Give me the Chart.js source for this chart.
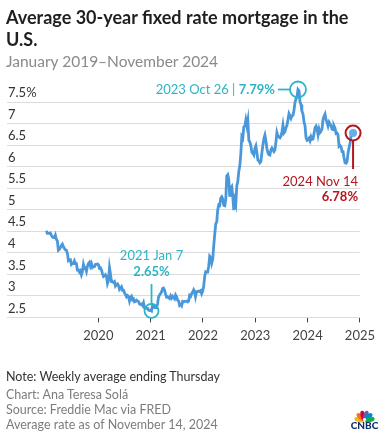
<!DOCTYPE html>
<html>
<head>
<meta charset="utf-8">
<script src="https://cdn.jsdelivr.net/npm/chart.js@4.4.1/dist/chart.umd.min.js"></script>
<style>
  html, body { margin: 0; padding: 0; background: #fff; }
  body { width: 381px; height: 444px; position: relative; overflow: hidden; font-family: Lato, "Open Sans", sans-serif; }
  #chart { position: absolute; left: 0; top: 0; }
  .txt { position: absolute; left: 6px; white-space: nowrap; }
  #title { top: 6px; font-size: 18px; line-height: 22px; font-weight: 700; color: #1f1f1f; }
  #subtitle { top: 52px; font-size: 15.5px; line-height: 18px; color: #8a8a8a; }
  .foot { font-size: 12.5px; line-height: 15px; color: #7d7d7d; }
</style>
</head>
<body>
<canvas id="chart" width="381" height="444"></canvas>
<div id="title" class="txt">Average 30-year fixed rate mortgage in the<br>U.S.</div>
<div id="subtitle" class="txt">January 2019–November 2024</div>
<div class="txt foot" style="top:369px;color:#333;">Note: Weekly average ending Thursday</div>
<div class="txt foot" style="top:387px;">Chart: Ana Teresa Solá</div>
<div class="txt foot" style="top:402px;">Source: Freddie Mac via FRED</div>
<div class="txt foot" style="top:417px;">Average rate as of November 14, 2024</div>
<script>
// --- weekly Freddie Mac 30-year fixed rate (PMMS) ---
const weekDates = [
  '2019-01-03','2019-01-10','2019-01-17','2019-01-24','2019-01-31',
  '2019-02-07','2019-02-14','2019-02-21','2019-02-28',
  '2019-03-07','2019-03-14','2019-03-21','2019-03-28',
  '2019-04-04','2019-04-11','2019-04-18','2019-04-25',
  '2019-05-02','2019-05-09','2019-05-16','2019-05-23','2019-05-30',
  '2019-06-06','2019-06-13','2019-06-20','2019-06-27',
  '2019-07-03','2019-07-11','2019-07-18','2019-07-25',
  '2019-08-01','2019-08-08','2019-08-15','2019-08-22','2019-08-29',
  '2019-09-05','2019-09-12','2019-09-19','2019-09-26',
  '2019-10-03','2019-10-10','2019-10-17','2019-10-24','2019-10-31',
  '2019-11-07','2019-11-14','2019-11-21','2019-11-27',
  '2019-12-05','2019-12-12','2019-12-19','2019-12-26',
  '2020-01-02','2020-01-09','2020-01-16','2020-01-23','2020-01-30',
  '2020-02-06','2020-02-13','2020-02-20','2020-02-27',
  '2020-03-05','2020-03-12','2020-03-19','2020-03-26',
  '2020-04-02','2020-04-09','2020-04-16','2020-04-23','2020-04-30',
  '2020-05-07','2020-05-14','2020-05-21','2020-05-28',
  '2020-06-04','2020-06-11','2020-06-18','2020-06-25',
  '2020-07-02','2020-07-09','2020-07-16','2020-07-23','2020-07-30',
  '2020-08-06','2020-08-13','2020-08-20','2020-08-27',
  '2020-09-03','2020-09-10','2020-09-17','2020-09-24',
  '2020-10-01','2020-10-08','2020-10-15','2020-10-22','2020-10-29',
  '2020-11-05','2020-11-12','2020-11-19','2020-11-25',
  '2020-12-03','2020-12-10','2020-12-17','2020-12-24','2020-12-31',
  '2021-01-07','2021-01-14','2021-01-21','2021-01-28',
  '2021-02-04','2021-02-11','2021-02-18','2021-02-25',
  '2021-03-04','2021-03-11','2021-03-18','2021-03-25',
  '2021-04-01','2021-04-08','2021-04-15','2021-04-22','2021-04-29',
  '2021-05-06','2021-05-13','2021-05-20','2021-05-27',
  '2021-06-03','2021-06-10','2021-06-17','2021-06-24',
  '2021-07-01','2021-07-08','2021-07-15','2021-07-22','2021-07-29',
  '2021-08-05','2021-08-12','2021-08-19','2021-08-26',
  '2021-09-02','2021-09-09','2021-09-16','2021-09-23','2021-09-30',
  '2021-10-07','2021-10-14','2021-10-21','2021-10-28',
  '2021-11-04','2021-11-10','2021-11-18','2021-11-24',
  '2021-12-02','2021-12-09','2021-12-16','2021-12-23','2021-12-30',
  '2022-01-06','2022-01-13','2022-01-20','2022-01-27',
  '2022-02-03','2022-02-10','2022-02-17','2022-02-24',
  '2022-03-03','2022-03-10','2022-03-17','2022-03-24','2022-03-31',
  '2022-04-07','2022-04-14','2022-04-21','2022-04-28',
  '2022-05-05','2022-05-12','2022-05-19','2022-05-26',
  '2022-06-02','2022-06-09','2022-06-16','2022-06-23','2022-06-30',
  '2022-07-07','2022-07-14','2022-07-21','2022-07-28',
  '2022-08-04','2022-08-11','2022-08-18','2022-08-25',
  '2022-09-01','2022-09-08','2022-09-15','2022-09-22','2022-09-29',
  '2022-10-06','2022-10-13','2022-10-20','2022-10-27',
  '2022-11-03','2022-11-10','2022-11-17','2022-11-23',
  '2022-12-01','2022-12-08','2022-12-15','2022-12-22','2022-12-29',
  '2023-01-05','2023-01-12','2023-01-19','2023-01-26',
  '2023-02-02','2023-02-09','2023-02-16','2023-02-23',
  '2023-03-02','2023-03-09','2023-03-16','2023-03-23','2023-03-30',
  '2023-04-06','2023-04-13','2023-04-20','2023-04-27',
  '2023-05-04','2023-05-11','2023-05-18','2023-05-25',
  '2023-06-01','2023-06-08','2023-06-15','2023-06-22','2023-06-29',
  '2023-07-06','2023-07-13','2023-07-20','2023-07-27',
  '2023-08-03','2023-08-10','2023-08-17','2023-08-24','2023-08-31',
  '2023-09-07','2023-09-14','2023-09-21','2023-09-28',
  '2023-10-05','2023-10-12','2023-10-19','2023-10-26',
  '2023-11-02','2023-11-09','2023-11-16','2023-11-22','2023-11-30',
  '2023-12-07','2023-12-14','2023-12-21','2023-12-28',
  '2024-01-04','2024-01-11','2024-01-18','2024-01-25',
  '2024-02-01','2024-02-08','2024-02-15','2024-02-22','2024-02-29',
  '2024-03-07','2024-03-14','2024-03-21','2024-03-28',
  '2024-04-04','2024-04-11','2024-04-18','2024-04-25',
  '2024-05-02','2024-05-09','2024-05-16','2024-05-23','2024-05-30',
  '2024-06-06','2024-06-13','2024-06-20','2024-06-27',
  '2024-07-03','2024-07-11','2024-07-18','2024-07-25',
  '2024-08-01','2024-08-08','2024-08-15','2024-08-22','2024-08-29',
  '2024-09-05','2024-09-12','2024-09-19','2024-09-26',
  '2024-10-03','2024-10-10','2024-10-17','2024-10-24','2024-10-31',
  '2024-11-07','2024-11-14'
];
const rates = [
  4.51,4.45,4.45,4.45,4.46,
  4.41,4.37,4.35,4.35,
  4.41,4.31,4.28,4.06,
  4.08,4.12,4.17,4.20,
  4.14,4.10,4.07,4.06,3.99,
  3.82,3.84,3.84,3.73,
  3.75,3.75,3.81,3.75,
  3.75,3.60,3.60,3.55,3.58,
  3.49,3.56,3.73,3.64,
  3.65,3.57,3.69,3.75,3.78,
  3.69,3.75,3.66,3.68,
  3.68,3.73,3.73,3.74,
  3.72,3.64,3.65,3.60,3.51,
  3.45,3.47,3.49,3.45,
  3.29,3.36,3.65,3.50,
  3.33,3.33,3.31,3.33,3.23,
  3.26,3.28,3.24,3.15,
  3.18,3.21,3.13,3.13,
  3.07,3.03,2.98,3.01,2.99,
  2.88,2.96,2.99,2.91,
  2.93,2.86,2.87,2.90,
  2.88,2.87,2.81,2.80,2.81,
  2.78,2.84,2.72,2.72,
  2.71,2.71,2.67,2.66,2.67,
  2.65,2.79,2.77,2.73,
  2.73,2.73,2.81,2.97,
  3.02,3.05,3.09,3.17,
  3.18,3.13,3.04,2.97,2.98,
  2.96,2.94,3.00,2.95,
  2.99,2.96,2.93,3.02,
  2.98,2.90,2.88,2.78,2.80,
  2.77,2.87,2.86,2.87,
  2.87,2.88,2.86,2.88,3.01,
  2.99,3.05,3.09,3.14,
  3.09,2.98,3.10,3.10,
  3.11,3.10,3.12,3.05,3.11,
  3.22,3.45,3.56,3.55,
  3.55,3.69,3.92,3.89,
  3.76,3.85,4.16,4.42,4.67,
  4.72,5.00,5.11,5.10,
  5.27,5.30,5.25,5.10,
  5.09,5.23,5.78,5.81,5.70,
  5.30,5.51,5.54,5.30,
  4.99,5.22,5.13,5.55,
  5.66,5.89,6.02,6.29,6.70,
  6.66,6.92,6.94,7.08,
  6.95,7.08,6.61,6.58,
  6.49,6.33,6.31,6.27,6.42,
  6.48,6.33,6.15,6.13,
  6.09,6.12,6.32,6.50,
  6.65,6.73,6.60,6.42,6.32,
  6.28,6.27,6.39,6.43,
  6.39,6.35,6.39,6.57,
  6.79,6.71,6.69,6.67,6.71,
  6.81,6.96,6.78,6.81,
  6.90,6.96,7.09,7.23,7.18,
  7.12,7.18,7.19,7.31,
  7.49,7.57,7.63,7.79,
  7.76,7.50,7.44,7.29,7.22,
  7.03,6.95,6.67,6.61,
  6.62,6.66,6.60,6.69,
  6.63,6.64,6.77,6.90,6.94,
  6.88,6.74,6.87,6.79,
  6.82,6.88,7.10,7.17,
  7.22,7.09,7.02,6.94,7.03,
  6.99,6.95,6.87,6.86,
  6.95,6.89,6.77,6.78,
  6.73,6.47,6.49,6.46,6.35,
  6.35,6.20,6.09,6.08,
  6.12,6.32,6.44,6.54,6.72,
  6.79,6.78
];

const yearTicks = [2020, 2021, 2022, 2023, 2024, 2025];
const rateTicks = [2.5, 3, 3.5, 4, 4.5, 5, 5.5, 6, 6.5, 7, 7.5];

// callouts
const calloutDates = ['2021-01-07', '2023-10-26', '2024-11-14'];
const calloutDateLabels = ['2021 Jan 7', '2023 Oct 26', '2024 Nov 14'];
const calloutValues = [2.65, 7.79, 6.78];

const FONT = 'Lato, "Open Sans", sans-serif';
const LINE_BLUE = '#4a98d9';
const TEAL = '#2cb5c6';
const RED = '#b5161f';

// date string -> decimal year for the linear x scale
const toYear = (s) => {
    const [y, m, d] = s.split('-').map(Number);
    const start = Date.UTC(y, 0, 1);
    const end = Date.UTC(y + 1, 0, 1);
    return y + (Date.UTC(y, m - 1, d) - start) / (end - start);
};

const points = weekDates.map((d, i) => ({ x: toYear(d), y: rates[i] }));

// --- callout + logo plugin ---
const calloutPlugin = {
    id: 'callouts',
    afterDatasetsDraw(chart) {
        const { ctx, scales: { x, y } } = chart;
        const px = calloutDates.map(d => x.getPixelForValue(toYear(d)));
        const py = calloutValues.map(v => y.getPixelForValue(v));
        const pct = calloutValues.map(v => v.toFixed(2) + '%');

        ctx.save();
        ctx.textBaseline = 'middle';

        // 1) 2021 low
        ctx.strokeStyle = TEAL;
        ctx.lineWidth = 1.8;
        ctx.beginPath();
        ctx.arc(px[0], py[0], 7, 0, Math.PI * 2);
        ctx.stroke();
        ctx.beginPath();
        ctx.moveTo(px[0], py[0] - 7);
        ctx.lineTo(px[0], py[0] - 27);
        ctx.stroke();
        ctx.fillStyle = TEAL;
        ctx.textAlign = 'center';
        ctx.font = `13px ${FONT}`;
        ctx.fillText(calloutDateLabels[0], px[0], py[0] - 55);
        ctx.font = `bold 13px ${FONT}`;
        ctx.fillText(pct[0], px[0], py[0] - 39);

        // 2) 2023 peak
        ctx.beginPath();
        ctx.arc(px[1], py[1], 8, 0, Math.PI * 2);
        ctx.stroke();
        ctx.beginPath();
        ctx.moveTo(px[1] - 8, py[1]);
        ctx.lineTo(px[1] - 20, py[1]);
        ctx.stroke();
        ctx.textAlign = 'right';
        ctx.font = `bold 13px ${FONT}`;
        const bx = px[1] - 23;
        ctx.fillText(pct[1], bx, py[1]);
        const bw = ctx.measureText(pct[1]).width;
        ctx.font = `13px ${FONT}`;
        ctx.fillText(calloutDateLabels[1] + ' | ', bx - bw, py[1]);

        // 3) latest
        ctx.strokeStyle = RED;
        ctx.fillStyle = RED;
        ctx.lineWidth = 2;
        ctx.beginPath();
        ctx.arc(px[2], py[2], 7.5, 0, Math.PI * 2);
        ctx.stroke();
        ctx.beginPath();
        ctx.moveTo(px[2], py[2] + 7.5);
        ctx.lineTo(px[2], py[2] + 36);
        ctx.stroke();
        ctx.textAlign = 'right';
        ctx.font = `13px ${FONT}`;
        ctx.fillText(calloutDateLabels[2], px[2] + 5, py[2] + 49);
        ctx.font = `bold 13px ${FONT}`;
        ctx.fillText(pct[2], px[2] + 5, py[2] + 64);

        // CNBC peacock
        const cx = 364.5, cy = 421;
        const petals = ['#fcb711', '#f37021', '#cc004c', '#6460aa', '#0089d0', '#0db14b'];
        petals.forEach((c, i) => {
            const a = Math.PI * (1.08 + i * 0.168);
            ctx.save();
            ctx.translate(cx + Math.cos(a) * 5.5, cy + Math.sin(a) * 5.5);
            ctx.rotate(a);
            ctx.fillStyle = c;
            ctx.beginPath();
            ctx.ellipse(0, 0, 5, 2.4, 0, 0, Math.PI * 2);
            ctx.fill();
            ctx.restore();
        });
        ctx.fillStyle = '#fff';
        ctx.beginPath();
        ctx.arc(cx, cy - 1.5, 1.6, 0, Math.PI * 2);
        ctx.fill();
        ctx.fillStyle = '#0d2c6c';
        ctx.textAlign = 'center';
        ctx.font = `900 10px ${FONT}`;
        ctx.fillText('CNBC', cx, cy + 5);
        ctx.restore();
    }
};

new Chart(document.getElementById('chart'), {
    type: 'line',
    data: {
        datasets: [{
            data: points,
            borderColor: LINE_BLUE,
            borderWidth: 2.8,
            tension: 0,
            clip: false,
            pointRadius: points.map((p, i) => i === points.length - 1 ? 4 : 0),
            pointBackgroundColor: '#6aaee6',
            pointBorderWidth: 0
        }]
    },
    options: {
        responsive: false,
        animation: false,
        layout: { padding: { left: 5, right: 16, top: 102, bottom: 94 } },
        plugins: { legend: { display: false }, tooltip: { enabled: false } },
        scales: {
            x: {
                type: 'linear',
                min: 2018.254,
                max: 2025,
                afterBuildTicks: axis => { axis.ticks = yearTicks.map(v => ({ value: v })); },
                grid: { drawOnChartArea: false, drawTicks: true, tickLength: 5, tickColor: '#444', tickWidth: 1 },
                border: { display: false },
                ticks: {
                    font: { family: FONT, size: 13 },
                    color: '#444',
                    padding: 6,
                    maxRotation: 0,
                    autoSkip: false,
                    callback: v => String(v)
                }
            },
            y: {
                min: 2.5,
                max: 7.5,
                afterBuildTicks: axis => { axis.ticks = rateTicks.map(v => ({ value: v })); },
                grid: { color: '#dcdcdc', drawTicks: false },
                border: { display: false },
                ticks: {
                    mirror: true,
                    padding: 1,
                    labelOffset: -9,
                    font: { family: FONT, size: 13 },
                    color: '#333',
                    callback: v => v === 7.5 ? '7.5%' : String(v)
                }
            }
        }
    },
    plugins: [calloutPlugin]
});
</script>
</body>
</html>
